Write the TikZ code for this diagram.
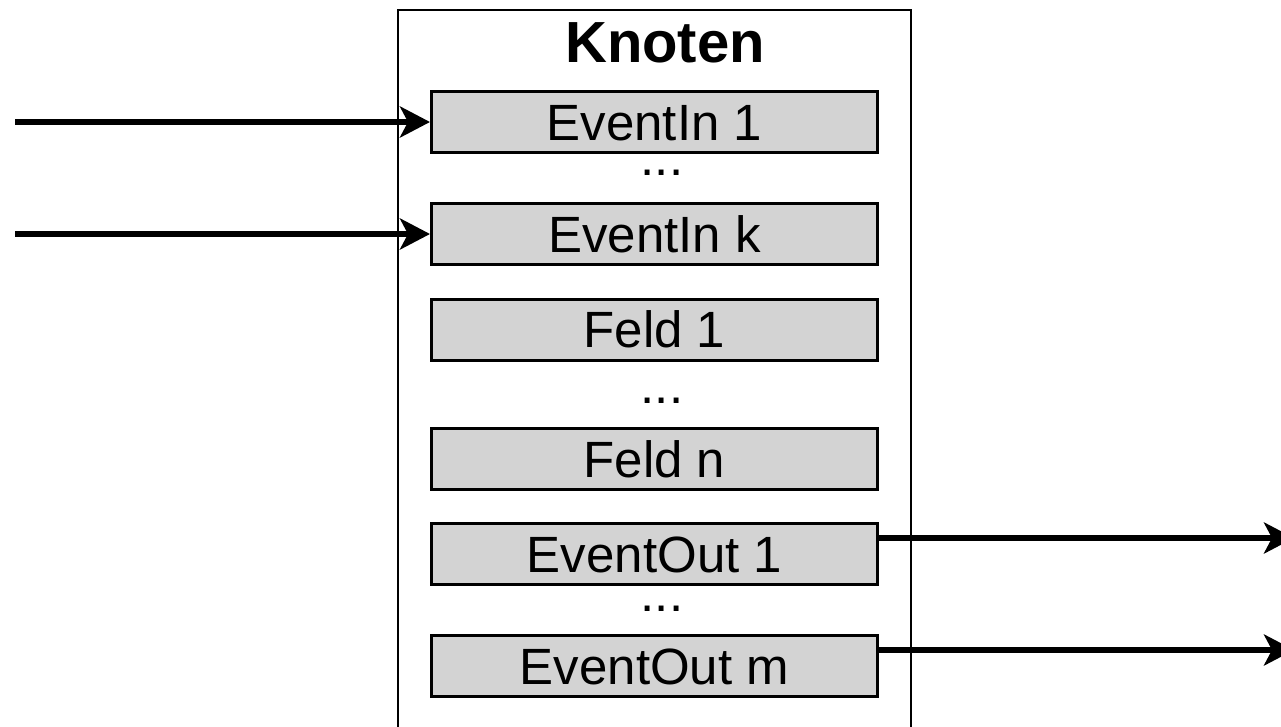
\documentclass[tikz,border=0pt]{standalone}
\usepackage{fontspec}
\setmainfont{Liberation Sans}
\usetikzlibrary{arrows.meta}
\definecolor{boxgray}{RGB}{211,211,211}
\begin{document}
\begin{tikzpicture}[x=1pt,y=-1pt,
  fieldbox/.style={draw=black,line width=3pt,fill=boxgray,minimum width=446pt,minimum height=61pt,inner sep=0pt,
    font=\fontsize{51}{60}\selectfont,text height=36.5pt,text depth=0pt},
  dotsnode/.style={anchor=base,inner sep=0pt,font=\fontsize{51}{60}\selectfont,text height=6pt,text depth=0pt},
  evarrow/.style={line width=5.5pt,-{Stealth[length=30pt,width=31pt,inset=8pt]}}]
\useasboundingbox (0,0) rectangle (1281,726);
% outer node
\draw[line width=2pt] (398,740) -- (398,10) -- (911,10) -- (911,740);
\node[anchor=base,inner sep=0pt,font=\fontsize{58}{62}\selectfont\bfseries] (title) at (665,62.7) {Knoten};
\node[fieldbox] (ein1) at (654.5,122) {EventIn 1};
\node[dotsnode] (d1) at (662,175.5) {...};
\node[fieldbox] (eink) at (654.5,234) {EventIn k};
\node[fieldbox] (f1) at (654.5,329.5) {Feld 1};
\node[dotsnode] (d2) at (662,403) {...};
\node[fieldbox] (fn) at (654.5,459) {Feld n};
\node[fieldbox] (eo1) at (654.5,554) {EventOut 1};
\node[dotsnode] (d3) at (662,611) {...};
\node[fieldbox] (eom) at (654.5,666) {EventOut m};
% arrows
\coordinate (src1) at (15,122);
\coordinate (srck) at (15,234);
\coordinate (dst1) at (1294,538);
\coordinate (dstm) at (1294,650);
\draw[evarrow] (src1) -- (ein1.west);
\draw[evarrow] (srck) -- (eink.west);
\draw[evarrow] (eo1.east |- dst1) -- (dst1);
\draw[evarrow] (eom.east |- dstm) -- (dstm);
\end{tikzpicture}
\end{document}
